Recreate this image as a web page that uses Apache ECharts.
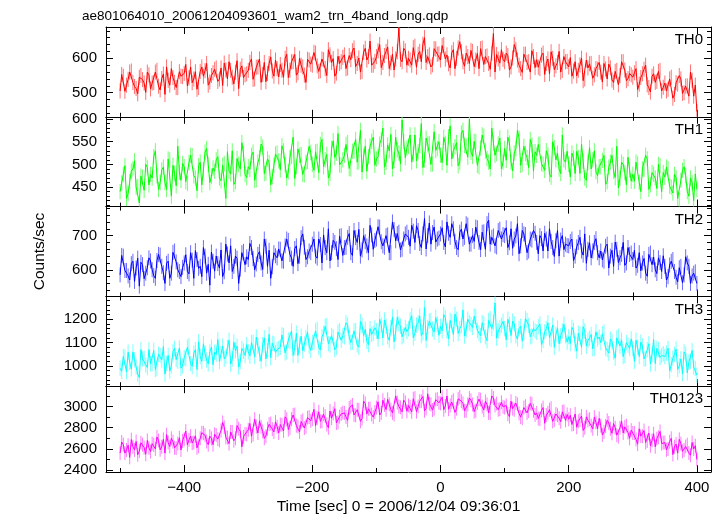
<!DOCTYPE html>
<html><head><meta charset="utf-8">
<script src="https://cdn.jsdelivr.net/npm/echarts@6/dist/echarts.min.js"></script>
<style>html,body{margin:0;padding:0;background:#fff}#c{width:724px;height:516px}</style>
</head><body><div id="c"></div><script>
// Time bins: start and bin width (seconds)
const t0 = -500, dt = 2.5;
const categories = ['TH0', 'TH1', 'TH2', 'TH3', 'TH0123'];
const th0 = [
505,553,548,504,522,539,560,563,530,518,512,497,545,550,538,528,501,560,552,511,
528,530,560,565,519,508,541,554,495,575,536,522,570,544,530,515,515,561,548,547,
556,582,520,543,575,529,540,561,510,515,562,575,548,564,585,522,531,550,558,568,
572,533,540,572,521,586,566,540,590,565,545,526,560,593,512,568,578,544,552,555,
565,588,598,539,540,574,575,598,530,553,588,532,556,585,604,563,548,595,570,546,
582,565,545,600,612,544,566,590,590,611,551,558,600,580,575,551,530,597,595,583,
580,617,615,578,562,564,598,596,570,550,625,610,588,599,548,557,606,585,590,603,
610,570,572,608,596,622,630,576,585,601,560,562,618,629,595,605,650,580,580,591,
605,622,640,573,588,608,620,633,570,587,612,566,598,619,688,597,590,629,622,580,
600,595,580,631,635,574,612,620,590,641,660,588,605,610,575,581,628,627,612,613,
595,637,640,598,610,584,572,616,625,570,600,630,648,619,590,577,615,605,585,623,
620,576,595,614,570,628,630,582,605,607,585,568,615,672,560,611,598,586,625,597,
590,615,608,566,575,601,640,626,595,580,570,559,612,612,588,590,560,622,605,573,
596,574,570,609,615,553,585,598,555,619,600,567,578,588,620,560,565,605,590,591,
575,602,548,563,590,549,565,581,600,535,540,595,572,584,585,542,552,570,568,588,
560,531,585,569,540,583,572,537,530,562,565,523,550,590,590,566,535,541,556,552,
545,558,570,509,525,544,555,568,580,523,515,502,548,555,530,533,562,565,505,516,
528,505,510,540,545,484,495,529,525,550,540,498,500,519,520,490,560,536,490,522,
445];
const th1 = [
440,459,478,497,425,436,462,485,490,508,450,451,415,474,472,443,500,493,455,478,
470,517,530,475,445,460,488,494,460,445,512,510,430,498,480,453,540,483,465,502,
495,462,458,504,520,519,475,470,442,497,505,455,488,527,535,500,460,474,492,485,
510,517,470,464,498,502,425,528,485,479,530,456,462,513,500,490,548,524,478,471,
495,489,520,527,465,466,505,515,545,538,480,481,512,504,455,473,498,523,525,508,
488,541,530,499,470,484,515,518,560,469,495,534,520,522,478,477,505,507,540,526,
500,487,528,529,482,544,555,495,510,522,470,480,535,552,515,525,568,499,498,510,
520,544,548,491,490,529,530,555,505,506,575,483,518,540,485,517,540,551,560,498,
512,517,545,555,580,494,505,543,530,566,490,509,560,532,525,501,598,551,515,536,
540,565,505,523,565,508,528,542,590,493,510,558,545,546,500,501,572,531,535,550,
520,504,560,546,498,561,585,512,530,539,548,497,505,569,575,542,540,516,600,527,
518,551,550,498,495,536,565,562,530,513,505,490,580,547,520,524,545,558,490,505,
535,509,560,547,505,486,525,535,575,558,498,501,540,524,515,493,555,543,485,528,
520,544,545,502,500,487,530,521,478,472,550,537,510,525,490,480,565,510,505,529,
500,472,525,514,480,529,515,480,545,507,470,465,505,537,490,510,530,484,475,495,
495,509,520,456,462,494,505,520,485,471,540,448,470,505,500,482,455,516,488,463,
478,463,505,501,460,440,490,489,520,512,445,455,482,478,470,447,500,497,440,482,
472,494,490,452,450,437,478,471,425,422,465,487,495,475,440,430,470,460,420,479,
445];
const th2 = [
585,642,640,598,598,582,570,618,625,566,605,634,552,622,615,574,590,606,635,626,
600,583,575,627,645,643,610,591,560,619,625,575,590,651,655,623,600,595,580,607,
620,644,595,588,650,628,575,656,630,604,610,580,665,640,590,616,555,652,625,596,
640,618,605,658,580,594,675,646,620,670,595,610,640,634,560,602,650,654,615,638,
630,677,665,633,600,617,645,653,620,601,690,669,610,657,575,609,650,641,635,661,
660,626,625,670,690,686,645,634,610,662,670,618,640,694,705,666,630,638,655,650,
675,690,640,634,690,674,620,702,665,650,720,626,650,686,680,662,630,698,700,642,
665,666,695,706,650,642,715,694,680,718,640,658,700,682,670,650,730,702,660,686,
690,726,725,682,670,666,700,702,650,650,740,718,685,706,710,658,660,690,705,710,
695,669,730,713,680,729,715,677,665,705,750,661,700,737,675,709,725,681,690,693,
705,723,680,667,740,707,695,735,720,683,665,659,710,719,690,695,735,731,675,675,
700,683,725,723,680,659,710,711,660,735,745,675,695,699,670,667,715,719,690,703,
700,723,665,679,720,663,690,699,735,647,670,715,705,703,650,655,690,687,715,707,
680,647,700,691,655,707,690,655,720,683,665,639,685,715,640,687,700,659,675,671,
670,683,690,627,640,667,680,695,655,643,705,619,660,679,635,655,680,691,650,635,
655,629,625,669,675,605,640,657,610,681,660,621,635,645,680,613,620,665,645,649,
630,657,605,613,650,597,620,633,590,581,645,649,615,637,600,589,635,621,595,641,
610,570,580,614,625,630,595,578,565,606,610,562,585,638,620,610,560,582,590,594,
560];
const th3 = [
990,977,1040,1037,975,1059,1015,987,1060,1026,995,965,950,1070,1030,1032,1005,993,1070,1009,
1010,1066,985,989,1050,1044,1025,1083,965,1011,1045,978,1000,1061,1075,1027,1020,1077,990,1000,
1035,1031,1080,1087,1010,998,1055,1070,985,1103,1040,1020,1095,1054,1025,1009,1060,1081,1005,1059,
1050,1113,1020,1052,1085,1030,1040,1080,1110,1008,1030,1102,1065,1085,995,1019,1075,1063,1045,1091,
1060,1042,1100,1102,1040,1124,1085,1052,1020,1091,1120,1030,1065,1135,1035,1097,1095,1058,1070,1074,
1080,1133,1130,1056,1060,1111,1105,1150,1045,1078,1140,1045,1090,1128,1065,1094,1120,1144,1085,1067,
1100,1101,1150,1157,1080,1068,1125,1140,1170,1173,1095,1090,1130,1124,1070,1079,1145,1151,1110,1129,
1125,1185,1175,1124,1100,1102,1150,1152,1090,1080,1190,1174,1130,1157,1105,1091,1160,1135,1140,1163,
1150,1115,1200,1175,1120,1197,1170,1125,1110,1164,1210,1103,1145,1208,1180,1170,1125,1131,1165,1147,
1160,1197,1215,1120,1140,1175,1185,1214,1130,1142,1250,1109,1165,1192,1195,1158,1145,1208,1180,1131,
1170,1150,1220,1206,1150,1117,1195,1189,1135,1222,1200,1139,1160,1173,1240,1128,1155,1200,1185,1178,
1165,1213,1210,1152,1140,1130,1185,1180,1125,1108,1195,1202,1160,1185,1270,1119,1150,1163,1175,1191,
1160,1112,1200,1178,1130,1192,1180,1129,1115,1160,1170,1106,1145,1203,1195,1174,1125,1128,1160,1150,
1145,1168,1180,1091,1110,1146,1160,1185,1120,1113,1175,1080,1135,1163,1095,1129,1150,1179,1130,1102,
1125,1096,1165,1152,1095,1063,1140,1135,1080,1168,1150,1085,1110,1119,1135,1074,1075,1146,1115,1124,
1100,1138,1145,1077,1070,1055,1115,1105,1060,1033,1120,1127,1085,1110,1040,1044,1100,1088,1075,1116,
1075,1020,1110,1080,1040,1102,1085,1030,1030,1069,1095,1008,1050,1113,1010,1075,1070,1036,1045,1052,
1040,1055,1075,978,1005,1033,1050,1072,985,1000,1030,967,1060,1050,970,1016,1020,1066,995,989,
960];
const th0123 = [
2560,2665,2640,2560,2590,2635,2520,2688,2620,2590,2670,2545,2580,2658,2640,2612,2550,2680,2610,2575,
2650,2637,2600,2713,2680,2592,2620,2690,2560,2735,2660,2622,2700,2668,2610,2607,2650,2705,2590,2675,
2690,2768,2640,2685,2720,2655,2660,2723,2610,2625,2700,2753,2750,2730,2670,2640,2720,2700,2640,2738,
2730,2692,2680,2775,2850,2805,2710,2707,2650,2760,2760,2677,2700,2820,2790,2768,2620,2715,2740,2737,
2780,2840,2720,2735,2880,2810,2750,2863,2810,2765,2700,2720,2790,2833,2840,2787,2760,2855,2810,2750,
2830,2827,2770,2903,2880,2782,2800,2880,2920,2925,2820,2812,2760,2858,2870,2797,2810,2895,2900,2865,
2880,2973,2820,2890,2950,2860,2860,2928,2910,2830,2800,2958,2890,2935,2980,2845,2850,2905,2930,2943,
2940,2902,2870,2985,3000,3015,2920,2917,2970,2970,2860,2887,3050,3030,2930,2978,2980,2925,2900,2947,
2990,3045,2920,2940,3060,3015,2970,3068,3020,2970,2940,2925,3100,3038,3000,2992,2950,3060,3040,2955,
3010,2997,2950,3073,3080,2952,3000,3050,3050,3095,2960,2982,3120,3028,3020,2967,2980,3065,3070,3035,
3030,3088,2970,3005,3100,2975,3010,3043,3060,2945,2980,3073,3090,3050,3030,2960,2960,3020,3080,3058,
3020,2952,2960,3035,3070,3065,3000,2967,3050,3020,2940,2937,3100,3080,3010,3028,2970,2975,3040,2997,
2990,3010,2930,2905,3050,2980,2970,3033,3020,2935,2900,2890,2990,3003,2940,2957,3030,3025,2960,2920,
2940,2887,2880,2963,2990,2842,2920,2940,2970,2985,2860,2872,2930,2918,2890,2857,2950,2955,2870,2925,
2880,2918,2830,2835,2930,2805,2860,2873,2910,2775,2800,2903,2870,2880,2820,2790,2900,2850,2790,2888,
2820,2732,2760,2815,2870,2845,2790,2747,2840,2800,2730,2717,2800,2860,2750,2808,2820,2755,2700,2777,
2750,2750,2690,2645,2790,2720,2720,2773,2660,2675,2750,2630,2680,2743,2620,2697,2710,2765,2650,2660,
2660,2592,2600,2668,2700,2547,2620,2645,2560,2690,2650,2577,2590,2623,2640,2562,2540,2660,2600,2630,
2500];
const seriesValues = [th0, th1, th2, th3, th0123];
// typical 1-sigma error of one bin (counts/sec), read from the error-bar lengths
const binErrors = [22, 17, 22, 33, 66];
const labelSteps = [100, 50, 100, 100, 200];

const colors = ['#ff0000', '#00ff00', '#0000ff', '#00ffff', '#ff00ff'];
const errColors = ['#ff7474', '#74ff74', '#6c6cff', '#7cffff', '#ff7cff'];
const yMin = [430, 407, 522, 913, 2382];
const yMax = [691, 605, 785, 1298, 3192];
const ySplit = [3, 4, 3, 4, 4];
const yMinorSplit = [5, 5, 5, 5, 2];
const FONT = 'Liberation Sans, Arial, Helvetica, sans-serif';
const tops = [27, 116.8, 206.6, 296.4, 386.2];
const H = 89.8;

const grid = [], xAxis = [], yAxis = [], series = [], title = [];
title.push({text: 'ae801064010_20061204093601_wam2_trn_4band_long.qdp', left: 77, top: 4,
  textStyle: {fontFamily: 'Liberation Sans Narrow, Arial Narrow, sans-serif', fontSize: 13.5, fontWeight: 'normal', color: '#000'}});
for (let i = 0; i < 5; i++) {
  grid.push({left: 106, right: 13, top: tops[i], height: H});
  const base = {
    type: 'value', gridIndex: i, min: -522, max: 422, splitNumber: 5,
    axisLine: {show: true, onZero: false, lineStyle: {color: '#000', width: 1}},
    axisTick: {show: true, inside: true, length: 7, lineStyle: {color: '#000'}},
    minorTick: {show: true, splitNumber: 2, length: 4, lineStyle: {color: '#000'}},
    splitLine: {show: false}, minorSplitLine: {show: false}
  };
  xAxis.push(Object.assign({}, base, {
    position: 'bottom',
    axisLabel: {show: i === 4, color: '#000', fontFamily: FONT, fontSize: 15, margin: 8,
      formatter: v => (v % 200 === 0 ? String(v).replace('-', '\u2212') : '')},
    name: i === 4 ? 'Time [sec] 0 = 2006/12/04 09:36:01' : '',
    nameLocation: 'middle', nameGap: 27,
    nameTextStyle: {fontFamily: FONT, fontSize: 15.5, color: '#000', padding: [0, 20, 0, 0]}
  }));
  xAxis.push(Object.assign({}, base, {position: 'top', axisLabel: {show: false}}));
  const step = labelSteps[i];
  const yb = {
    type: 'value', gridIndex: i, min: yMin[i], max: yMax[i], splitNumber: ySplit[i],
    axisLine: {show: true, onZero: false, lineStyle: {color: '#000', width: 1}},
    axisTick: {show: true, inside: true, length: 7, lineStyle: {color: '#000'}},
    minorTick: {show: true, splitNumber: yMinorSplit[i], length: 4, lineStyle: {color: '#000'}},
    splitLine: {show: false}, minorSplitLine: {show: false}
  };
  yAxis.push(Object.assign({}, yb, {
    position: 'left',
    axisLabel: {show: true, color: '#000', fontFamily: FONT, fontSize: 15, margin: 9,
      showMinLabel: false, showMaxLabel: i === 1,
      formatter: v => (v % step === 0 ? String(v) : '')},
    name: i === 2 ? 'Counts/sec' : '', nameLocation: 'middle', nameGap: 58, nameRotate: 90,
    nameTextStyle: {fontFamily: FONT, fontSize: 15.5, color: '#000'}
  }));
  yAxis.push(Object.assign({}, yb, {position: 'right', axisLabel: {show: false}}));
  title.push({text: categories[i], right: 16, top: tops[i] + 0.5,
    textStyle: {fontFamily: FONT, fontSize: 15, fontWeight: 'normal', color: '#000'}});
  const err = binErrors[i];
  const pts = seriesValues[i].map((v, k) => [t0 + k * dt, v, err]);
  series.push({
    type: 'custom', xAxisIndex: 2 * i, yAxisIndex: 2 * i, data: pts,
    silent: true, animation: false, z: 1, clip: true,
    renderItem: (params, api) => {
      const x = api.value(0), v = api.value(1), e = api.value(2);
      const p1 = api.coord([x, v - e]), p2 = api.coord([x, v + e]);
      return {type: 'line', shape: {x1: p1[0], y1: p1[1], x2: p2[0], y2: p2[1]},
        style: {stroke: errColors[i], lineWidth: 1}};
    },
    encode: {x: 0, y: 1}
  });
  series.push({
    type: 'line', name: categories[i], xAxisIndex: 2 * i, yAxisIndex: 2 * i,
    data: pts.map(p => [p[0], p[1]]),
    showSymbol: false, symbol: 'none', silent: true, animation: false, z: 2, clip: true,
    lineStyle: {color: colors[i], width: 1}
  });
}
const chart = echarts.init(document.getElementById('c'), null, {renderer: 'canvas'});
chart.setOption({backgroundColor: '#fff', animation: false, title, grid, xAxis, yAxis, series});
</script></body></html>
